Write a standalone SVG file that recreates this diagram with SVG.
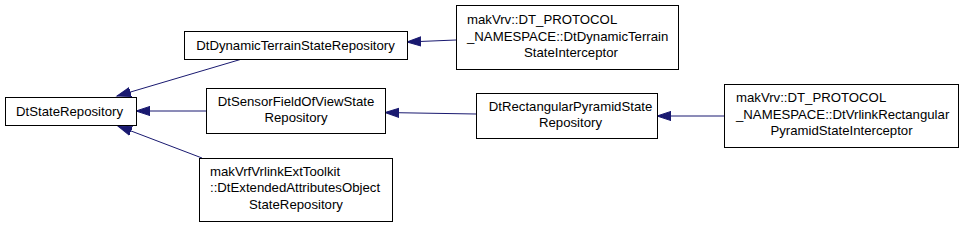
<svg xmlns="http://www.w3.org/2000/svg" width="979" height="227" viewBox="0 0 979 227">
<style>
  .box { fill: #ffffff; stroke: #000000; stroke-width: 1; }
  .lbl { font-family: "Liberation Sans", Arial, sans-serif; font-size: 13.2px; fill: #000000; }
  .mid { text-anchor: middle; }
  .edge { stroke: #191970; stroke-width: 1; fill: none; marker-end: url(#arr); }
</style>
<defs>
  <marker id="arr" markerUnits="userSpaceOnUse" markerWidth="16" markerHeight="12" viewBox="-14 -6 16 12" refX="0" refY="0" orient="auto">
    <path d="M0,0 L-14,-4.6 L-14,4.6 Z" fill="#191970" stroke="#191970" stroke-width="1"/>
  </marker>
</defs>
<rect width="979" height="227" fill="#ffffff"/>
<g id="connectors">
  <line class="edge" x1="242" y1="59" x2="117" y2="96"/>
  <line class="edge" x1="206" y1="111" x2="136" y2="111"/>
  <line class="edge" x1="202" y1="158" x2="118" y2="126"/>
  <line class="edge" x1="456" y1="40" x2="407" y2="42"/>
  <line class="edge" x1="476" y1="114" x2="385" y2="112.5"/>
  <line class="edge" x1="724" y1="116" x2="657" y2="116"/>
</g>
<g id="DtStateRepository">
  <rect class="box" x="5.5" y="97.5" width="131" height="28"/>
  <text class="lbl" x="16" y="116">DtStateRepository</text>
</g>
<g id="DtDynamicTerrainStateRepository">
  <rect class="box" x="184.5" y="31.5" width="223" height="28"/>
  <text class="lbl mid" x="295.5" y="50">DtDynamicTerrainStateRepository</text>
</g>
<g id="DtSensorFieldOfViewStateRepository">
  <rect class="box" x="206.5" y="88.5" width="179" height="45"/>
  <text class="lbl mid" x="296" y="105.7">DtSensorFieldOfViewState</text>
  <text class="lbl mid" x="296" y="122.2">Repository</text>
</g>
<g id="DtExtendedAttributesObjectStateRepository">
  <rect class="box" x="199.5" y="158.5" width="193" height="63"/>
  <text class="lbl" x="210" y="175.8">makVrfVrlinkExtToolkit</text>
  <text class="lbl" x="210" y="192.3">::DtExtendedAttributesObject</text>
  <text class="lbl mid" x="296" y="208.8">StateRepository</text>
</g>
<g id="DtDynamicTerrainStateInterceptor">
  <rect class="box" x="456.5" y="5.5" width="222" height="64"/>
  <text class="lbl" x="467" y="24.3">makVrv::DT_PROTOCOL</text>
  <text class="lbl" x="467" y="40.8">_NAMESPACE::DtDynamicTerrain</text>
  <text class="lbl mid" x="571" y="57.3">StateInterceptor</text>
</g>
<g id="DtRectangularPyramidStateRepository">
  <rect class="box" x="476.5" y="93.5" width="181" height="45"/>
  <text class="lbl mid" x="570.5" y="110.7">DtRectangularPyramidState</text>
  <text class="lbl mid" x="570.5" y="127.2">Repository</text>
</g>
<g id="DtVrlinkRectangularPyramidStateInterceptor">
  <rect class="box" x="724.5" y="84.5" width="234" height="63"/>
  <text class="lbl" x="736" y="102">makVrv::DT_PROTOCOL</text>
  <text class="lbl" x="736" y="118.5">_NAMESPACE::DtVrlinkRectangular</text>
  <text class="lbl mid" x="841.5" y="135">PyramidStateInterceptor</text>
</g>
</svg>
